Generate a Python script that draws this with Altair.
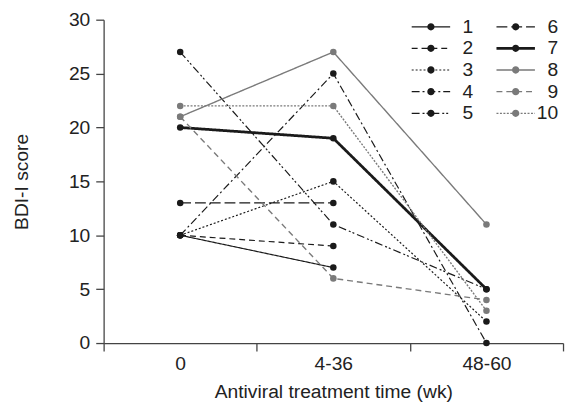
import altair as alt
import pandas as pd

# ---- data ----
times = ["0", "4-36", "48-60"]
patients = ["1", "2", "3", "4", "5", "6", "7", "8", "9", "10"]
score_t0 = [10, 10, 10, 10, 27, 13, 20, 21, 21, 22]
score_t1 = [7, 9, 15, 25, 11, 13, 19, 27, 6, 22]
score_t2 = [None, None, 2, 0, 5, None, 5, 11, 4, 3]

# ---- styles ----
black = "#1a1a1a"
grey = "#7a7a7a"
colors = [black] * 7 + [grey] * 3
dashes = [[1, 0], [6, 4], [2, 2], [8, 3, 2, 3], [8, 3, 2, 2, 2, 3],
          [11, 4], [1, 0], [1, 0], [6, 4], [2, 1.5]]
widths = [1.2, 1.2, 1.2, 1.2, 1.2, 1.2, 2.8, 1.4, 1.4, 1.4]

rows = []
for k, (p, a, b, c) in enumerate(zip(patients, score_t0, score_t1, score_t2)):
    for i, v in enumerate([a, b, c]):
        if v is not None:
            rows.append({"patient": p, "time": times[i], "pos": i + 0.5,
                         "score": v, "lw": widths[k]})
df = pd.DataFrame(rows)


# legend glyph: a dashed line (drawn as filled bars) with a dot in the middle
SYM_SIZE = 380
UNIT = (SYM_SIZE ** 0.5) / 2  # px per path unit


def glyph(dash, width, length=39.0, dot_r=3.7):
    parts = []
    hw = width / 2 / UNIT
    pos, on, j = 0.0, True, 0
    if dash[1] == 0:
        segs = [(0.0, length)]
    else:
        segs = []
        while pos < length:
            d = dash[j % len(dash)]
            if on:
                segs.append((pos, min(pos + d, length)))
            pos += d
            on = not on
            j += 1
    for a, b in segs:
        x0 = (a - length / 2) / UNIT
        x1 = (b - length / 2) / UNIT
        parts.append(f"M{x0:.3f},{-hw:.3f}L{x1:.3f},{-hw:.3f}L{x1:.3f},{hw:.3f}L{x0:.3f},{hw:.3f}Z")
    r = dot_r / UNIT
    parts.append(f"M{r:.3f},0A{r:.3f},{r:.3f},0,1,1,{-r:.3f},0A{r:.3f},{r:.3f},0,1,1,{r:.3f},0Z")
    return "".join(parts)


glyphs = [glyph(d, w) for d, w in zip(dashes, widths)]

FONT = "Liberation Sans"
FS = 19.5

legend = alt.Legend(
    title=None, orient="none", legendX=322, legendY=-3, columns=2,
    symbolSize=SYM_SIZE, symbolStrokeWidth=0, labelFontSize=FS, labelFont=FONT,
    labelColor="#222", labelAlign="right", labelOffset=33, rowPadding=2,
    columnPadding=23, padding=0,
)

color_scale = alt.Scale(domain=patients, range=colors)
color_enc = alt.Color("patient:N", scale=color_scale, legend=legend)
xscale = alt.Scale(domain=[0, 3], nice=False, zero=False)
yscale = alt.Scale(domain=[0, 30], nice=False)

y_enc = alt.Y("score:Q", scale=yscale,
              axis=alt.Axis(values=[0, 5, 10, 15, 20, 25, 30], title="BDI-I score",
                            tickSize=8, labelPadding=6, titlePadding=38, grid=False))

# legend carrier layer (no visible marks, only its legend)
legend_layer = alt.Chart(df).transform_filter("false").mark_point(
    filled=True, size=SYM_SIZE, opacity=1
).encode(
    color=color_enc,
    shape=alt.Shape("patient:N", scale=alt.Scale(domain=patients, range=glyphs), legend=legend),
)

lines = alt.Chart(df).mark_line().encode(
    x=alt.X("pos:Q", scale=xscale,
            axis=alt.Axis(values=[0, 1, 2, 3], labels=False, title=None, tickSize=8,
                          grid=False, orient="bottom")),
    y=y_enc,
    color=color_enc,
    strokeDash=alt.StrokeDash("patient:N", scale=alt.Scale(domain=patients, range=dashes),
                              legend=None),
    strokeWidth=alt.StrokeWidth("lw:Q", scale=None, legend=None),
    detail="patient:N",
)

label_expr = "['" + "','".join(times) + "'][floor(datum.value)]"
points = alt.Chart(df).mark_point(filled=True, size=44, opacity=1).encode(
    x=alt.X("pos:Q", scale=xscale,
            axis=alt.Axis(values=[0.5, 1.5, 2.5], labelExpr=label_expr, ticks=False,
                          domain=False, grid=False, orient="bottom", labelPadding=12,
                          title="Antiviral treatment time (wk)", titlePadding=10)),
    y=y_enc,
    color=color_enc,
)

chart = alt.layer(legend_layer, lines, points).resolve_axis(x="independent").properties(
    width=466, height=328,
    autosize=alt.AutoSizeParams(type="none"),
    padding={"left": 97, "top": 9, "right": 2, "bottom": 62},
).configure_view(stroke=None).configure_axis(
    labelFont=FONT, titleFont=FONT, labelFontSize=FS, titleFontSize=FS,
    titleFontWeight="normal", labelColor="#222", titleColor="#222",
    domainColor="#444", tickColor="#444", domainWidth=1.3, tickWidth=1.3,
).configure_text(font=FONT)

chart.save("out.html", embed_options={"renderer": "svg", "actions": False})
